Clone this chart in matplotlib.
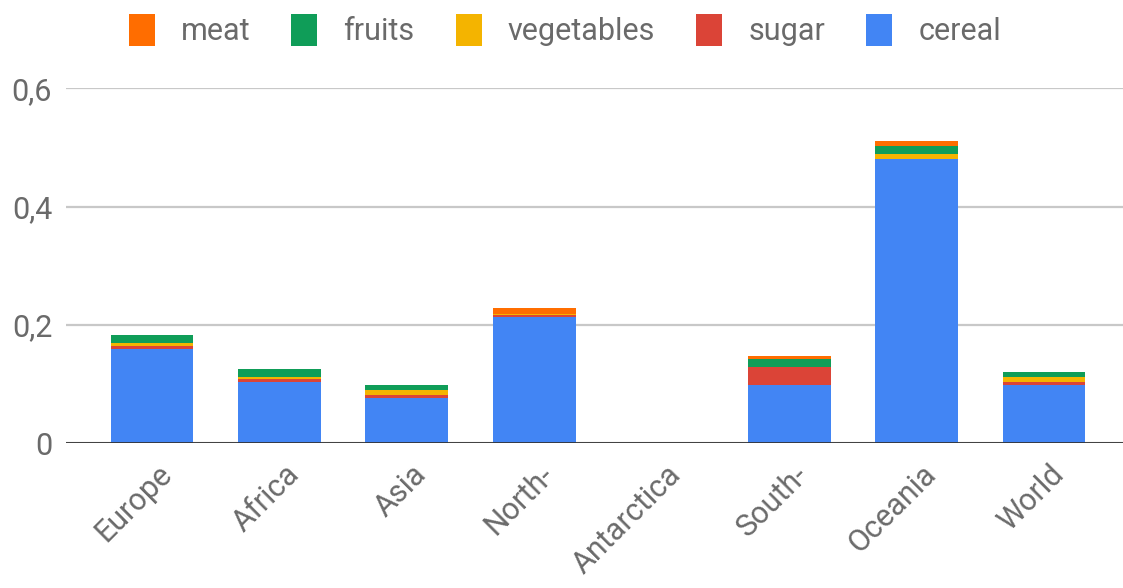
import matplotlib
matplotlib.use("Agg")
import matplotlib.pyplot as plt
import matplotlib.transforms as mtransforms
from matplotlib.patches import Patch
import numpy as np

plt.rcParams["font.family"] = ["Roboto", "DejaVu Sans"]

regions = ["Europe", "Africa", "Asia", "North-", "Antarctica", "South-", "Oceania", "World"]
cereal = [0.160, 0.1035, 0.076, 0.2135, 0.0, 0.0985, 0.481, 0.0985]
sugar = [0.0045, 0.0045, 0.005, 0.003, 0.0, 0.030, 0.0, 0.005]
vegetables = [0.0045, 0.004, 0.009, 0.002, 0.0, 0.0, 0.0085, 0.0085]
fruits = [0.0135, 0.013, 0.0085, 0.0, 0.0, 0.0147, 0.013, 0.009]
meat = [0.0, 0.0, 0.0, 0.011, 0.0, 0.004, 0.0085, 0.0]

series = [
    ("cereal", cereal, "#4285F4"),
    ("sugar", sugar, "#DB4437"),
    ("vegetables", vegetables, "#F4B400"),
    ("fruits", fruits, "#0F9D58"),
    ("meat", meat, "#FF6D00"),
]
yticks = [0, 0.2, 0.4, 0.6]
ytick_labels = ["0", "0,2", "0,4", "0,6"]

text_color = "#6a6a6a"

fig = plt.figure(figsize=(11.23, 5.88), dpi=100)
ax = fig.add_axes([0.0588, 0.246, 0.9412, 0.604])

x = np.arange(len(regions))
bottom = np.zeros(len(regions))
for name, vals, color in series:
    vals = np.array(vals)
    ax.bar(x, vals, width=0.65, bottom=bottom, color=color, linewidth=0, zorder=3)
    bottom += vals

ax.set_xlim(-0.675, 7.62)
ax.set_ylim(0, 0.6)
ax.set_yticks(yticks)
ax.set_yticklabels(ytick_labels)
ax.yaxis.grid(True, color="#c8c8c8", linewidth=1.6, zorder=0)
ax.axhline(0, color="#333333", linewidth=2, zorder=4)
for s in ax.spines.values():
    s.set_visible(False)
ax.tick_params(axis="y", length=0, pad=10, labelsize=22, labelcolor=text_color)
ax.tick_params(axis="x", length=0, pad=19, labelsize=22, labelcolor=text_color)
ax.set_xticks(x)
ax.set_xticklabels(regions, rotation=45, ha="right", va="center", rotation_mode="anchor")
offset = mtransforms.ScaledTranslation(15 / 100, 0, fig.dpi_scale_trans)
for lbl in ax.get_xticklabels():
    lbl.set_transform(lbl.get_transform() + offset)

handles = [Patch(facecolor=c, edgecolor="none", label=n) for n, _, c in reversed(series)]
fig.legend(handles=handles, loc="center", bbox_to_anchor=(0.503, 0.949), ncol=5,
           frameon=False, fontsize=22, labelcolor=text_color,
           handlelength=0.85, handleheight=1.25, handletextpad=0.85, columnspacing=1.35)

fig.savefig("out.png", dpi=100)
